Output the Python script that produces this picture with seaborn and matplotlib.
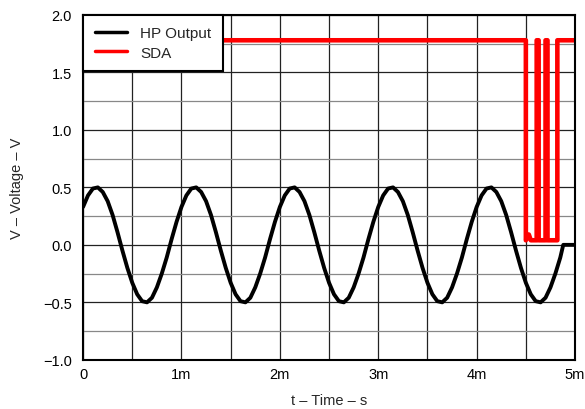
import numpy as np
import pandas as pd
import matplotlib
matplotlib.use("Agg")
import matplotlib.pyplot as plt
from matplotlib.ticker import MultipleLocator, FuncFormatter
import seaborn as sns

HP_T_STEP = 0.05
HP_V = [
    0.33, 0.43, 0.49, 0.50, 0.46, 0.38, 0.26, 0.11, -0.05, -0.20,
    -0.33, -0.43, -0.49, -0.50, -0.46, -0.37, -0.25, -0.11, 0.05, 0.20,
    0.33, 0.43, 0.49, 0.50, 0.46, 0.38, 0.26, 0.11, -0.05, -0.20,
    -0.33, -0.43, -0.49, -0.50, -0.46, -0.37, -0.25, -0.11, 0.05, 0.20,
    0.33, 0.43, 0.49, 0.50, 0.46, 0.38, 0.26, 0.11, -0.05, -0.20,
    -0.33, -0.43, -0.49, -0.50, -0.46, -0.37, -0.25, -0.11, 0.05, 0.20,
    0.33, 0.43, 0.49, 0.50, 0.46, 0.38, 0.26, 0.11, -0.05, -0.20,
    -0.33, -0.43, -0.49, -0.50, -0.46, -0.37, -0.25, -0.11, 0.05, 0.20,
    0.33, 0.43, 0.49, 0.50, 0.46, 0.38, 0.26, 0.11, -0.05, -0.20,
    -0.33, -0.43, -0.49, -0.50, -0.46, -0.37, -0.25, -0.11,
]
HP_TAIL_T = [4.88, 5.0]
HP_TAIL_V = [0.0, 0.0]

# SDA (ms, V)
SDA_T = [0.0, 4.50, 4.50, 4.53, 4.55, 4.61, 4.61, 4.63, 4.63, 4.70, 4.70,
         4.72, 4.72, 4.82, 4.82, 5.0]
SDA_V = [1.78, 1.78, 0.04, 0.09, 0.04, 0.04, 1.78, 1.78, 0.04, 0.04, 1.78,
         1.78, 0.04, 0.04, 1.78, 1.78]

hp_t = list(np.round(np.arange(len(HP_V)) * HP_T_STEP, 3)) + HP_TAIL_T
hp_v = HP_V + HP_TAIL_V

df = pd.concat([
    pd.DataFrame({'t': hp_t, 'v': hp_v, 'sig': 'HP Output'}),
    pd.DataFrame({'t': SDA_T, 'v': SDA_V, 'sig': 'SDA'}),
], ignore_index=True)

sns.set_theme(style="white")
plt.rcParams['font.family'] = ['Liberation Sans', 'DejaVu Sans']

fig = plt.figure(figsize=(5.85, 4.10), dpi=100)
ax = fig.add_axes([0.142, 0.12, 0.841, 0.841])

sns.lineplot(data=df, x='t', y='v', hue='sig', palette=['black', '#ff0000'],
             estimator=None, sort=False, linewidth=2.8, ax=ax)
for ln, lw in zip(ax.lines, [2.8, 3.3]):
    ln.set_linewidth(lw)
    ln.set_solid_joinstyle('round')

ax.set_xlim(0, 5)
ax.set_ylim(-1.0, 2.0)
ax.xaxis.set_major_locator(MultipleLocator(1))
ax.xaxis.set_minor_locator(MultipleLocator(0.5))
ax.yaxis.set_major_locator(MultipleLocator(0.5))
ax.yaxis.set_minor_locator(MultipleLocator(0.25))
ax.xaxis.set_major_formatter(FuncFormatter(lambda x, p: '0' if x == 0 else f'{x:.0f}m'))
ax.yaxis.set_major_formatter(FuncFormatter(lambda y, p: f'{y:.1f}'.replace('-', '\u2212')))

ax.grid(which='major', axis='both', color='#222222', linewidth=0.9)
ax.grid(which='minor', axis='x', color='#222222', linewidth=0.9)
ax.grid(which='minor', axis='y', color='#888888', linewidth=0.9)
ax.set_axisbelow(True)
ax.tick_params(which='both', length=0, labelsize=10.5, colors='black')
ax.tick_params(axis='x', pad=5)
ax.tick_params(axis='y', pad=8)
for s in ax.spines.values():
    s.set_color('black')
    s.set_linewidth(1.5)

ax.set_xlabel('t \u2013 Time \u2013 s', fontsize=10.5, labelpad=9)
ax.set_ylabel('V \u2013 Voltage \u2013 V', fontsize=10.5, labelpad=14)

leg = ax.legend(loc='upper left', borderaxespad=0, fontsize=11, handlelength=2.1,
                fancybox=False, framealpha=1, edgecolor='black',
                borderpad=0.75, labelspacing=0.35, handletextpad=0.9)
leg.get_frame().set_linewidth(1.5)
leg.set_title(None)
leg.set_zorder(5)
for h in leg.get_lines():
    h.set_linewidth(2.5)

plt.savefig('out.png', dpi=100)
